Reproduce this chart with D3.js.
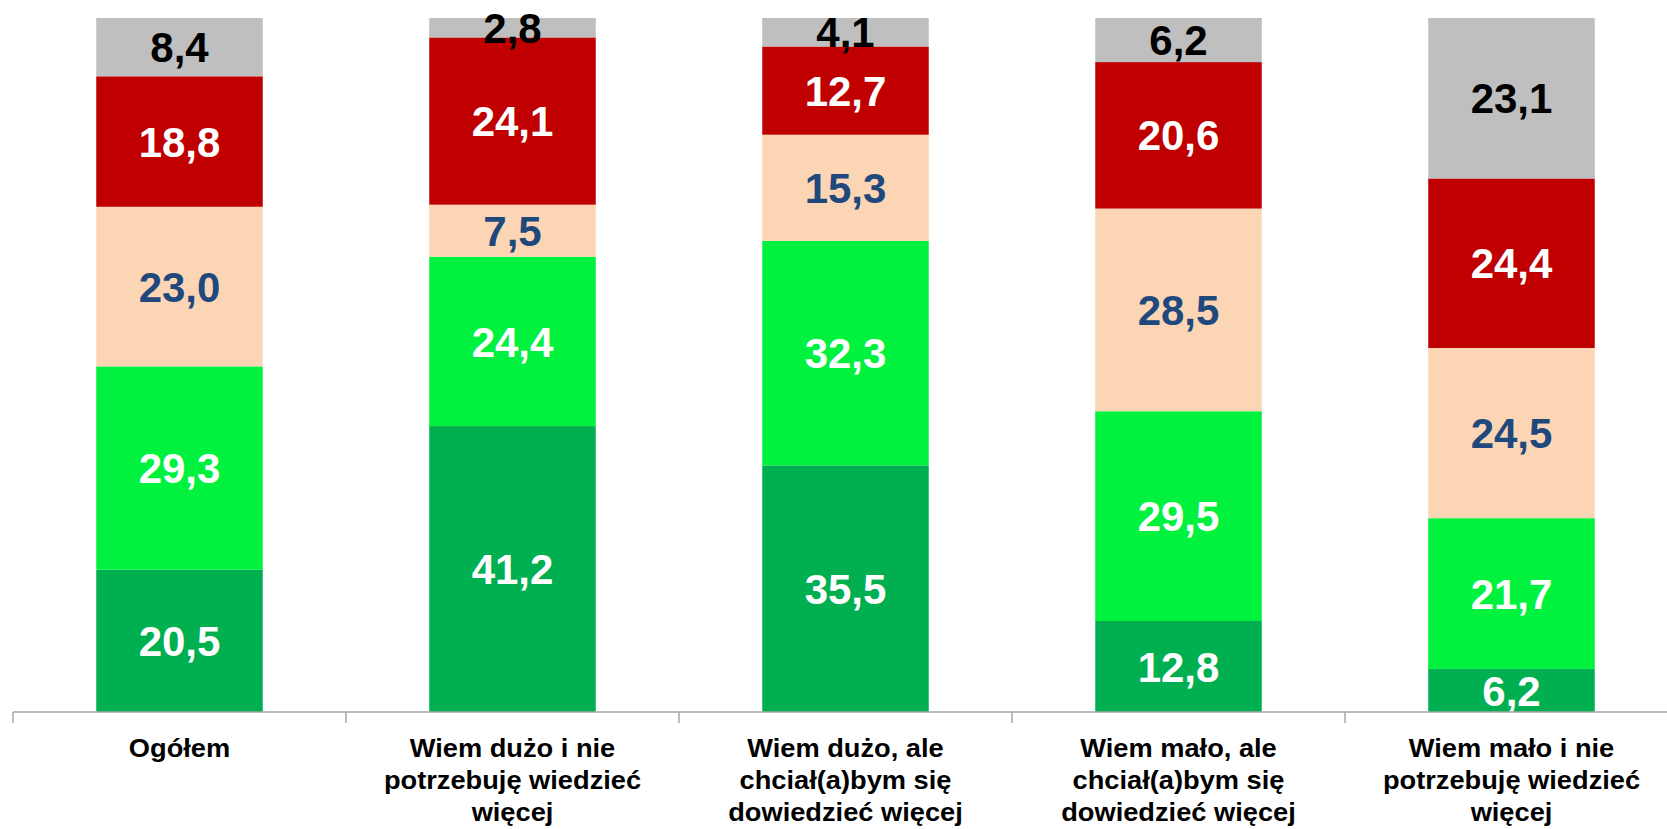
<!DOCTYPE html>
<html>
<head>
<meta charset="utf-8">
<script src="https://cdn.jsdelivr.net/npm/d3@7"></script>
<style>
  body { margin: 0; background: #fff; }
  svg { display: block; }
  .cat-label { font-family: "Liberation Sans", Arial, sans-serif; font-weight: 700; fill: #000; }
  .val-label { font-family: "Liberation Sans", Arial, sans-serif; font-weight: 700; }
</style>
</head>
<body>
<div id="chart"></div>
<script>
// categories (line breaks as in the original axis labels)
const categories = [
    "Ogółem",
    "Wiem dużo i nie|potrzebuję wiedzieć|więcej",
    "Wiem dużo, ale|chciał(a)bym się|dowiedzieć więcej",
    "Wiem mało, ale|chciał(a)bym się|dowiedzieć więcej",
    "Wiem mało i nie|potrzebuję wiedzieć|więcej"
];

// series, bottom to top
const seriesNames = ["s1", "s2", "s3", "s4", "s5"];
const s1 = [20.5, 41.2, 35.5, 12.8, 6.2];
const s2 = [29.3, 24.4, 32.3, 29.5, 21.7];
const s3 = [23.0, 7.5, 15.3, 28.5, 24.5];
const s4 = [18.8, 24.1, 12.7, 20.6, 24.4];
const s5 = [8.4, 2.8, 4.1, 6.2, 23.1];

const fills = ["#00b050", "#00f23f", "#fcd5b5", "#c00000", "#bfbfbf"];
const textColors = ["#ffffff", "#ffffff", "#1f497d", "#ffffff", "#000000"];

const W = 1667, H = 829;
const axisY = 712, topY = 18;

const table = categories.map((c, i) => ({
    cat: c, s1: s1[i], s2: s2[i], s3: s3[i], s4: s4[i], s5: s5[i]
}));

const stack = d3.stack().keys(seriesNames).offset(d3.stackOffsetExpand);
const stacked = stack(table);

const x = d3.scaleBand()
    .domain(categories)
    .range([13, 13 + 5 * 333])
    .paddingInner(0.5)
    .paddingOuter(0.25);

const y = d3.scaleLinear().domain([0, 1]).range([axisY, topY]);

const svg = d3.select("#chart").append("svg")
    .attr("width", W)
    .attr("height", H);

const layers = svg.selectAll(".layer")
    .data(stacked)
    .join("g")
    .attr("class", "layer")
    .attr("fill", (d, i) => fills[i]);

layers.selectAll("rect")
    .data(d => d)
    .join("rect")
    .attr("x", d => x(d.data.cat))
    .attr("width", x.bandwidth())
    .attr("y", d => y(d[1]))
    .attr("height", d => y(d[0]) - y(d[1]));

// axis
const axis = svg.append("g").attr("transform", `translate(0,${axisY})`);
axis.append("line")
    .attr("x1", 13).attr("x2", W)
    .attr("stroke", "#a6a6a6").attr("stroke-width", 1.5);
const step = x.step();
axis.selectAll(".tick")
    .data(d3.range(categories.length + 1))
    .join("line")
    .attr("class", "tick")
    .attr("x1", i => 13 + i * step).attr("x2", i => 13 + i * step)
    .attr("y1", 0).attr("y2", 11)
    .attr("stroke", "#a6a6a6").attr("stroke-width", 1.5);

// value labels
const fmt = v => d3.format(".1f")(v).replace(".", ",");
layers.each(function (layer, li) {
    d3.select(this).selectAll("text")
        .data(layer)
        .join("text")
        .attr("class", "val-label")
        .attr("x", d => x(d.data.cat) + x.bandwidth() / 2)
        .attr("y", d => (y(d[0]) + y(d[1])) / 2)
        .attr("dy", "0.36em")
        .attr("text-anchor", "middle")
        .attr("font-size", 42)
        .attr("fill", textColors[li])
        .text(d => fmt(d.data[layer.key]));
});

// category labels
svg.selectAll(".cat-label")
    .data(categories)
    .join("text")
    .attr("class", "cat-label")
    .attr("font-size", 25)
    .attr("text-anchor", "middle")
    .attr("transform", d => `translate(${x(d) + x.bandwidth() / 2},757) scale(1.09,1)`)
    .each(function (d) {
        d3.select(this).selectAll("tspan")
            .data(d.split("|"))
            .join("tspan")
            .attr("x", 0)
            .attr("dy", (t, i) => i === 0 ? 0 : 32)
            .text(t => t);
    });
</script>
</body>
</html>
